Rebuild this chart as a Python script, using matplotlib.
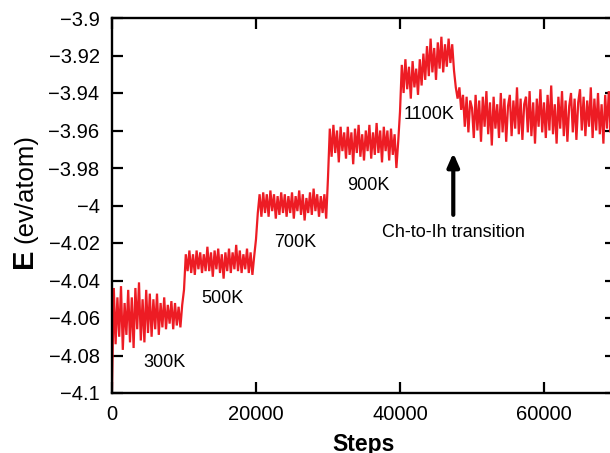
import numpy as np
from matplotlib import pyplot as plt

plt.rcParams['font.family'] = ['Liberation Sans', 'DejaVu Sans']

# energy trace, one value every 250 steps
step_interval = 250
e_300k = [-4.098, -4.044, -4.074, -4.049, -4.070, -4.043, -4.077, -4.052, -4.069, -4.045,
          -4.073, -4.049, -4.076, -4.044, -4.066, -4.041, -4.072, -4.050, -4.073, -4.045,
          -4.068, -4.047, -4.070, -4.050, -4.066, -4.047, -4.069, -4.052, -4.065, -4.049,
          -4.066, -4.053, -4.063, -4.051, -4.066, -4.052, -4.064, -4.054, -4.065, -4.053]
e_500k = [-4.045, -4.026, -4.035, -4.024, -4.036, -4.026, -4.037, -4.024, -4.034, -4.025,
          -4.036, -4.026, -4.035, -4.022, -4.035, -4.025, -4.038, -4.024, -4.034, -4.023,
          -4.036, -4.026, -4.039, -4.025, -4.035, -4.023, -4.036, -4.025, -4.034, -4.021,
          -4.035, -4.024, -4.036, -4.026, -4.034, -4.023, -4.036, -4.025, -4.037, -4.027]
e_700k = [-4.018, -4.004, -3.994, -4.006, -3.993, -4.004, -3.994, -4.006, -3.992, -4.003,
          -3.994, -4.007, -3.995, -4.005, -3.993, -4.004, -3.994, -4.006, -3.995, -4.004,
          -3.993, -4.007, -3.995, -4.003, -3.992, -4.005, -3.994, -4.008, -3.996, -4.004,
          -3.993, -4.005, -3.991, -4.003, -3.994, -4.006, -3.995, -4.004, -3.994, -4.007]
e_900k = [-3.985, -3.959, -3.974, -3.957, -3.972, -3.960, -3.977, -3.958, -3.971, -3.961,
          -3.975, -3.958, -3.973, -3.961, -3.978, -3.959, -3.972, -3.957, -3.974, -3.962,
          -3.976, -3.960, -3.971, -3.957, -3.975, -3.961, -3.973, -3.956, -3.972, -3.960,
          -3.977, -3.958, -3.971, -3.960, -3.976, -3.959, -3.973, -3.962, -3.980, -3.966]
e_1100k = [-3.950, -3.925, -3.940, -3.922, -3.938, -3.926, -3.943, -3.923, -3.937, -3.927,
           -3.941, -3.922, -3.936, -3.919, -3.933, -3.915, -3.931, -3.911, -3.929, -3.916,
           -3.933, -3.913, -3.927, -3.910, -3.929, -3.914, -3.926, -3.911, -3.924, -3.914,
           -3.928, -3.937, -3.943, -3.937, -3.949, -3.941, -3.958, -3.942, -3.961, -3.944]
e_tail_a = [-3.948, -3.964, -3.941, -3.960, -3.944, -3.966, -3.942, -3.958, -3.939, -3.962,
            -3.945, -3.968, -3.942, -3.959, -3.946, -3.964, -3.940, -3.961, -3.943, -3.966,
            -3.947, -3.941, -3.963, -3.944, -3.959, -3.937, -3.962, -3.943, -3.965, -3.946,
            -3.942, -3.961, -3.939, -3.963, -3.945, -3.967, -3.943, -3.958, -3.938, -3.961]
e_tail_b = [-3.945, -3.964, -3.941, -3.960, -3.936, -3.962, -3.946, -3.967, -3.942, -3.959,
            -3.939, -3.963, -3.944, -3.966, -3.947, -3.940, -3.961, -3.943, -3.965, -3.945,
            -3.938, -3.960, -3.942, -3.963, -3.944, -3.958, -3.937, -3.964, -3.943, -3.960,
            -3.940, -3.962, -3.946, -3.967, -3.941, -3.959, -3.939, -3.961, -3.944, -3.957]

energy = np.array(e_300k + e_500k + e_700k + e_900k + e_1100k + e_tail_a + e_tail_b)
steps = np.arange(len(energy)) * step_interval

# temperature labels: (text, x start, baseline y)
temp_labels = [('300K', 4300, -4.086), ('500K', 12350, -4.052), ('700K', 22500, -4.022),
               ('900K', 32650, -3.9917), ('1100K', 40550, -3.954)]
transition_x = 47400

fig = plt.figure(figsize=(6.1, 4.53), dpi=100)
ax = fig.add_axes([112 / 610, 1 - 393 / 453, 504 / 610, 375 / 453])

ax.plot(steps, energy, color='#ED1C24', lw=1.6, solid_joinstyle='miter')

ax.set_xlim(0, 70000)
ax.set_ylim(-4.1, -3.9)
ax.set_xticks([0, 20000, 40000, 60000])
ax.set_yticks([-4.1, -4.08, -4.06, -4.04, -4.02, -4.0, -3.98, -3.96, -3.94, -3.92, -3.9])
ax.set_yticklabels(['\u22124.1', '\u22124.08', '\u22124.06', '\u22124.04', '\u22124.02', '\u22124',
                    '\u22123.98', '\u22123.96', '\u22123.94', '\u22123.92', '\u22123.9'])
ax.tick_params(direction='in', length=8, width=1.6, labelsize=14.5, pad=9,
               top=True, right=True)
for s in ax.spines.values():
    s.set_linewidth(1.7)

ax.set_xlabel('Steps', fontsize=16.5, fontweight='bold', labelpad=6)
fig.text(32 / 610, 1 - 268 / 453, 'E', fontsize=21, fontweight='bold',
         rotation=90, rotation_mode='anchor', ha='left', va='baseline')
fig.text(32 / 610, 1 - 243 / 453, '(ev/atom)', fontsize=18.5,
         rotation=90, rotation_mode='anchor', ha='left', va='baseline')

for txt, x, y in temp_labels:
    ax.text(x, y, txt, fontsize=13, ha='left', va='baseline')

ax.annotate('', xy=(transition_x, -3.972), xytext=(transition_x, -4.005),
            arrowprops=dict(arrowstyle='-|>,head_width=0.35,head_length=0.8',
                            lw=3, color='black', shrinkA=0, shrinkB=0))
ax.text(transition_x, -4.0168, 'Ch-to-Ih transition', fontsize=13, ha='center', va='baseline')

plt.savefig('out.png', dpi=100)
